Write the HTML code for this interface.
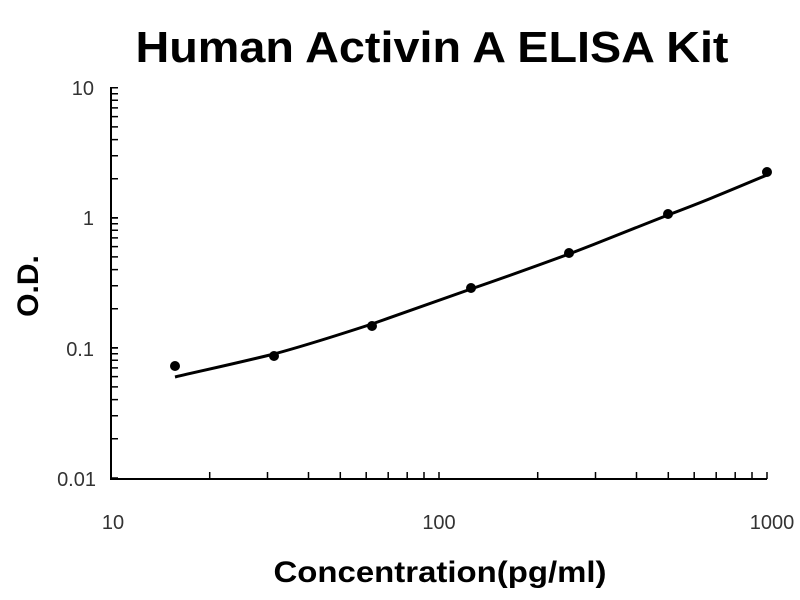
<!DOCTYPE html>
<html><head><meta charset="utf-8"><style>
body{margin:0;background:#fff}
svg{display:block;font-family:"Liberation Sans",sans-serif}
</style></head><body>
<svg id="s" width="800" height="600" viewBox="0 0 800 600">
<rect width="800" height="600" fill="#fff"/>
<text x="432" y="62" text-anchor="middle" font-size="44" font-weight="bold" textLength="593" lengthAdjust="spacingAndGlyphs">Human Activin A ELISA Kit</text>
<text x="440" y="582" text-anchor="middle" font-size="30" font-weight="bold" textLength="333" lengthAdjust="spacingAndGlyphs">Concentration(pg/ml)</text>
<text transform="translate(38,286) rotate(-90)" text-anchor="middle" font-size="30" font-weight="bold">O.D.</text>
<g font-size="20" fill="#333">
<text x="94" y="95" text-anchor="end">10</text>
<text x="94" y="225" text-anchor="end">1</text>
<text x="94" y="356" text-anchor="end">0.1</text>
<text x="96" y="486" text-anchor="end">0.01</text>
<text x="113" y="529" text-anchor="middle">10</text>
<text x="439" y="529" text-anchor="middle">100</text>
<text x="772" y="529" text-anchor="middle">1000</text>
</g>
<g id="ax" stroke="#000" stroke-width="2" fill="none">
<path d="M111,87 V479 H767"/>
</g>
<path d="M175,377 C200,371 225,366 274,354 C300,347 323,340 372,324 C400,314 421,307 471,289 C500,279 520,272 569,254 C600,242 618,235 668,215 C700,203 717,196 767,175" stroke="#000" stroke-width="3" fill="none"/>
<g fill="#000">
<circle cx="175" cy="366" r="5"/><circle cx="274" cy="356" r="5"/><circle cx="372" cy="326" r="5"/>
<circle cx="471" cy="288" r="5"/><circle cx="569" cy="253" r="5"/><circle cx="668" cy="214" r="5"/>
<circle cx="767" cy="172" r="5"/>
</g>
</svg>
<script>
var ax=document.getElementById('ax'),d='';
[478,348,218].forEach(function(b){for(var k=1;k<=10;k++){var y=b-Math.log10(k)*130.3;d+='M111,'+y.toFixed(1)+'h7';}});
[111,439].forEach(function(b){for(var k=1;k<=10;k++){var x=b+Math.log10(k)*328;d+='M'+x.toFixed(1)+',479v-7';}});
var p=document.createElementNS('http://www.w3.org/2000/svg','path');p.setAttribute('d',d);p.setAttribute('stroke-width','1.5');ax.appendChild(p);
</script>
</body></html>
